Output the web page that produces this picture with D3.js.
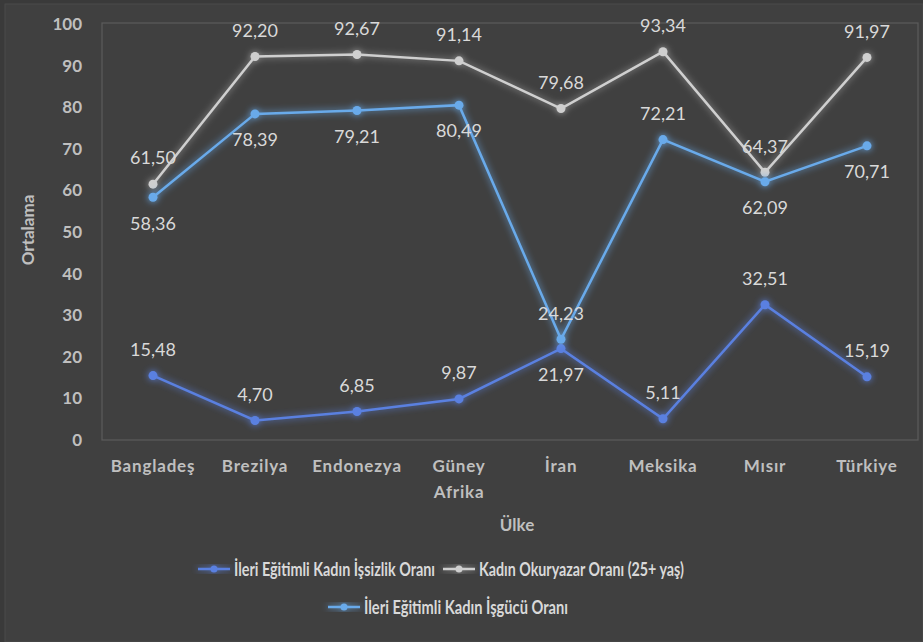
<!DOCTYPE html>
<html><head><meta charset="utf-8">
<script src="https://cdn.jsdelivr.net/npm/d3@7"></script>
<style>
html,body{margin:0;padding:0;background:#3a3a3a;}
svg{display:block;}
</style></head>
<body>
<script>
const categories = ["Bangladeş","Brezilya","Endonezya","Güney Afrika","İran","Meksika","Mısır","Türkiye"];
const unemployment = [15.48, 4.70, 6.85, 9.87, 21.97, 5.11, 32.51, 15.19];
const literacy = [61.50, 92.20, 92.67, 91.14, 79.68, 93.34, 64.37, 91.97];
const laborForce = [58.36, 78.39, 79.21, 80.49, 24.23, 72.21, 62.09, 70.71];
const yTicks = [0,10,20,30,40,50,60,70,80,90,100];
const seriesNames = ["İleri Eğitimli Kadın İşsizlik Oranı","Kadın Okuryazar Oranı (25+ yaş)","İleri Eğitimli Kadın İşgücü Oranı"];
// label placement: -1 above, +1 below
const unempPos = [-1,-1,-1,-1,1,-1,-1,-1];
const litPos = [-1,-1,-1,-1,-1,-1,-1,-1];
const laborPos = [1,1,1,1,-1,-1,1,1];

(function(){
const W=923,H=642;
const svg=d3.select("body").append("svg").attr("width",W).attr("height",H);
const defs=svg.append("defs");
function glow(id,sd,op){
  const f=defs.append("filter").attr("id",id).attr("x","-20%").attr("y","-20%").attr("width","140%").attr("height","140%");
  f.append("feGaussianBlur").attr("in","SourceGraphic").attr("stdDeviation",sd).attr("result","b");
  f.append("feComponentTransfer").attr("in","b").attr("result","b2")
   .append("feFuncA").attr("type","linear").attr("slope",op);
  const m=f.append("feMerge");
  m.append("feMergeNode").attr("in","b2");
  m.append("feMergeNode").attr("in","SourceGraphic");
}
glow("g1",3.5,1.0);
glow("g2",3.5,0.7);
glow("g3",3.5,1.0);

svg.append("rect").attr("x",5).attr("y",4).attr("width",W-5).attr("height",H-4)
  .attr("fill","#404040").attr("stroke","#4a4a4a");

const pL=102,pR=918,pT=24,pB=440;
const x=d3.scaleBand().domain(categories).range([pL,pR]);
const y=d3.scaleLinear().domain([0,100]).range([pB,pT]);
const cx=d=>x(d)+x.bandwidth()/2;

svg.append("rect").attr("x",pL).attr("y",pT-1).attr("width",pR-pL).attr("height",pB-pT+1)
  .attr("fill","none").attr("stroke","#5c5c5c").attr("stroke-width",1.2);

const font="'Lato',sans-serif";
const ya=svg.append("g").attr("transform",`translate(${pL},0)`)
  .call(d3.axisLeft(y).tickValues(yTicks).tickSize(0).tickPadding(20));
ya.select(".domain").remove();
ya.selectAll("text").attr("fill","#bfbfbf").style("font-family",font).style("font-size","17px").style("font-weight","bold");

const xa=svg.append("g").attr("transform",`translate(0,${pB})`)
  .call(d3.axisBottom(x).tickSize(0).tickPadding(20));
xa.select(".domain").remove();
xa.selectAll("text").attr("fill","#bfbfbf").style("font-family",font).style("font-size","17px").style("font-weight","bold")
  .style("letter-spacing","0.8px")
  .each(function(d){
    const t=d3.select(this);
    const parts=d.split(" ");
    if(parts.length>1){
      t.text(null);
      parts.forEach((p,i)=>t.append("tspan").attr("x",0).attr("dy",i===0?"0.71em":"1.5em").text(p));
      t.attr("y",20);
    }
  });

svg.append("text").attr("transform","translate(34,230) rotate(-90)").attr("text-anchor","middle")
  .attr("fill","#bfbfbf").style("font-family",font).style("font-size","17px").style("font-weight","bold").text("Ortalama");
svg.append("text").attr("x",517).attr("y",531).attr("text-anchor","middle")
  .attr("fill","#bfbfbf").style("font-family",font).style("font-size","17px").style("font-weight","bold").text("Ülke");

const series=[
  {vals:unemployment,pos:unempPos,color:"#5a80e0",filter:"g1"},
  {vals:literacy,pos:litPos,color:"#cfcfcf",filter:"g2"},
  {vals:laborForce,pos:laborPos,color:"#69aaea",filter:"g3"}
];
const line=d3.line().x((d,i)=>cx(categories[i])).y(d=>y(d));
const fmt=v=>v.toFixed(2).replace(".",",");
series.forEach(s=>{
  const g=svg.append("g").attr("filter",`url(#${s.filter})`);
  g.append("path").attr("d",line(s.vals)).attr("fill","none").attr("stroke",s.color).attr("stroke-width",2.5);
  g.selectAll("circle").data(s.vals).join("circle")
    .attr("cx",(d,i)=>cx(categories[i])).attr("cy",d=>y(d)).attr("r",4.5).attr("fill",s.color);
});
series.forEach(s=>{
  svg.append("g").selectAll("text").data(s.vals).join("text")
    .attr("x",(d,i)=>cx(categories[i]))
    .attr("y",(d,i)=>y(d)+s.pos[i]*26)
    .attr("dy","0.35em").attr("text-anchor","middle")
    .attr("fill","#d9d9d9").style("font-family",font).style("font-size","18px")
    .text(d=>fmt(d));
});

const legendItems=[
  {name:seriesNames[0],color:"#5a80e0",filter:"g1",x:198,y:569,tl:201},
  {name:seriesNames[1],color:"#cfcfcf",filter:"g2",x:443,y:569,tl:205},
  {name:seriesNames[2],color:"#69aaea",filter:"g3",x:328,y:607,tl:204}
];
legendItems.forEach(it=>{
  const g=svg.append("g").attr("transform",`translate(${it.x},${it.y})`);
  const gg=g.append("g").attr("filter",`url(#${it.filter})`);
  gg.append("line").attr("x1",0).attr("x2",32).attr("y1",0).attr("y2",0).attr("stroke",it.color).attr("stroke-width",2.5);
  gg.append("circle").attr("cx",16).attr("cy",0).attr("r",3.5).attr("fill",it.color);
  g.append("text").attr("x",36).attr("y",0).attr("dy","0.35em").attr("fill","#d9d9d9")
    .attr("textLength",it.tl).attr("lengthAdjust","spacingAndGlyphs")
    .style("font-family",font).style("font-size","19px").style("font-weight","bold").text(it.name);
});
})();
</script>
</body></html>
